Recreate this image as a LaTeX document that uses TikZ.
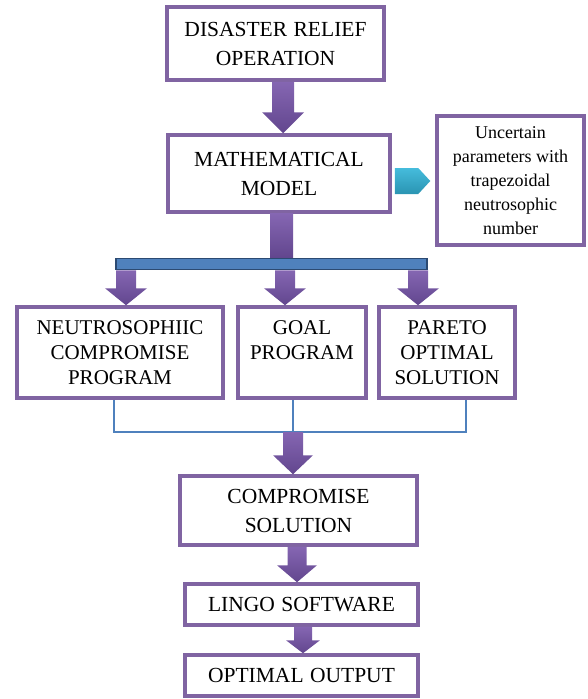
\documentclass[tikz,border=0pt]{standalone}
\usepackage{fontspec}
\setmainfont{Liberation Serif}
\usetikzlibrary{calc}
\definecolor{boxpurple}{HTML}{8064A2}
\definecolor{arrtop}{HTML}{8566B2}
\definecolor{arrbot}{HTML}{62468E}
\definecolor{barblue}{HTML}{4F81BD}
\definecolor{bardark}{HTML}{2C4A72}
\definecolor{cyantop}{HTML}{45BCDC}
\definecolor{cyanbot}{HTML}{2A94B2}
\tikzset{
  flowbox/.style={draw=boxpurple, line width=3.5pt, fill=white, inner sep=0pt,
    align=center, font=\fontsize{21.5}{29}\selectfont},
  rowbox/.style={flowbox, minimum height=91pt, font=\fontsize{21}{25}\selectfont},
  arrowfill/.style={top color=arrtop, bottom color=arrbot},
  cyanfill/.style={top color=cyantop, bottom color=cyanbot},
  blueline/.style={draw=barblue, line width=2pt},
}
\newcommand\blockarrow[5]{% start, tip, head length, shaft half, head half
  \shade[arrowfill] let \p1=(#1), \p2=(#2) in
  (\x1-#4pt,\y1) -- (\x1+#4pt,\y1) -- (\x1+#4pt,\y2+#3pt) -- (\x1+#5pt,\y2+#3pt)
  -- (\x1,\y2) -- (\x1-#5pt,\y2+#3pt) -- (\x1-#4pt,\y2+#3pt) -- cycle;}
\begin{document}
\begin{tikzpicture}[x=1pt,y=-1pt]
\useasboundingbox (0,0) rectangle (587,699);
% boxes
\node[flowbox, minimum width=217pt, minimum height=73pt] (b1) at (275.5,43.5)
  {DISASTER\hspace{0.3em}RELIEF\\OPERATION};
\node[flowbox, minimum width=222pt, minimum height=77pt] (b2) at (279,173.5)
  {MATHEMATICAL\\MODEL};
\node[flowbox, minimum width=147pt, minimum height=129pt,
  font=\fontsize{18}{24}\selectfont] (unc) at (510.5,180.5)
  {Uncertain\\parameters with\\trapezoidal\\neutrosophic\\number};
\node[rowbox, minimum width=206pt] (n1) at (120,352.5)
  {NEUTROSOPHIIC\\COMPROMISE\\PROGRAM};
\node[rowbox, minimum width=128pt] (n2) at (302,352.5)
  {GOAL\\PROGRAM\\\vphantom{PROGRAM}};
\node[rowbox, minimum width=136pt] (n3) at (447,352.5)
  {PARETO\\OPTIMAL\\SOLUTION};
\node[flowbox, minimum width=237pt, minimum height=69pt] (cs) at (298.5,510.5)
  {COMPROMISE\\SOLUTION};
\node[flowbox, minimum width=233pt, minimum height=41pt] (lg) at (301.5,604.5)
  {LINGO\hspace{0.3em}SOFTWARE};
\node[flowbox, minimum width=233pt, minimum height=41pt] (op) at (301.5,675.5)
  {OPTIMAL\hspace{0.3em}OUTPUT};
% bar
\node[fill=barblue, draw=bardark, line width=1.8pt, inner sep=0pt,
  minimum width=311pt, minimum height=11pt] (bar) at (271.5,264) {};
% arrows
\blockarrow{283,0 |- b1.south}{283,0 |- b2.north}{21}{11}{21}
\shade[arrowfill] let \p1=(281.5,0 |- b2.south), \p2=(281.5,0 |- bar.north) in
  (\x1-11.5pt,\y1) rectangle (\x1+11.5pt,\y2);
\blockarrow{126,0 |- bar.south}{126,0 |- n1.north}{17}{10}{21}
\blockarrow{285,0 |- bar.south}{285,0 |- n2.north}{17}{10}{21}
\blockarrow{418,0 |- bar.south}{418,0 |- n3.north}{17}{10}{21}
% cyan arrow
\shade[cyanfill] let \p1=($(b2.east)+(3,7.5)$), \p2=($(unc.west)+(-5,0)$) in
  (\x1,\y1+13pt) -- (\x2-12pt,\y1+13pt) -- (\x2,\y1) -- (\x2-12pt,\y1-13pt)
  -- (\x1,\y1-13pt) -- cycle;
% blue connectors
\coordinate (j) at (293,432);
\draw[blueline] (114,0 |- n1.south) |- (j) -| (466,0 |- n3.south);
\draw[blueline] (293,0 |- n2.south) -- (j);
\blockarrow{293,0 |- j}{293,0 |- cs.north}{19}{10}{20}
\blockarrow{297,0 |- cs.south}{297,0 |- lg.north}{17}{9.5}{20}
\blockarrow{303,0 |- lg.south}{303,0 |- op.north}{13}{9}{17}
\end{tikzpicture}
\end{document}
